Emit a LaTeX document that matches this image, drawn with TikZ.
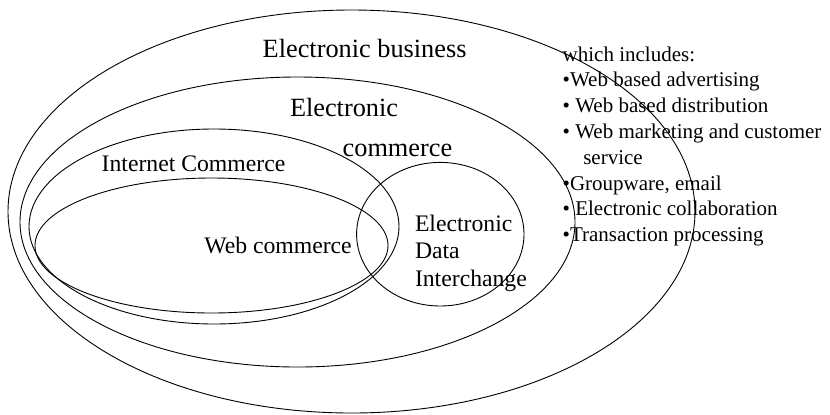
\documentclass[tikz,border=0pt]{standalone}
\usepackage{fontspec}
\setmainfont{Liberation Serif}
\begin{document}
\begin{tikzpicture}[x=1bp,y=-1bp,
  venn/.style={draw=black, line width=0.9bp},
  lbl/.style={inner sep=0pt, outer sep=0pt, anchor=base west, text=black},
  bigtxt/.style={lbl, font=\fontsize{26.3bp}{30bp}\selectfont},
  midtxt/.style={lbl, font=\fontsize{23.7bp}{28bp}\selectfont},
  listtxt/.style={lbl, font=\fontsize{21bp}{25bp}\selectfont}]
\useasboundingbox (0,0) rectangle (830,414);
% ellipses
\draw[venn] (351.5,211.5) ellipse [x radius=343.5bp, y radius=201.5bp];
\draw[venn] (297.5,222) ellipse [x radius=277.5bp, y radius=145bp];
\draw[venn] (214,226.5) ellipse [x radius=185bp, y radius=97.5bp];
\draw[venn] (211.5,245.5) ellipse [x radius=176.5bp, y radius=67.5bp];
\draw[venn] (440.3,234.2) ellipse [x radius=83.7bp, y radius=71.8bp];
% labels
\node[bigtxt] (eb) at (262.7,57.3) {Electronic business};
\node[bigtxt] (ec1) at (290,116.7) {Electronic};
\node[bigtxt] (ec2) at (342.7,156.7) {commerce};
\node[midtxt] (ic) at (101.7,171.7) {Internet Commerce};
\node[midtxt] (wc) at (204.3,253.3) {Web commerce};
\node[midtxt] (edi1) at (415,231) {Electronic};
\node[midtxt] (edi2) at (415,258.5) {Data};
\node[midtxt] (edi3) at (415,286.7) {Interchange};
% list
\node[listtxt] (l0) at (562.7,61.7) {which includes:};
\node[listtxt] (l1) at (562.7,86.9) {•Web based advertising};
\node[listtxt] (l2) at (562.7,112.6) {• Web based distribution};
\node[listtxt] (l3) at (562.7,138.3) {• Web marketing and customer};
\node[listtxt] (l4) at (583.3,164) {service};
\node[listtxt] (l5) at (562.7,190) {•Groupware, email};
\node[listtxt] (l6) at (562.7,215.8) {• Electronic collaboration};
\node[listtxt] (l7) at (562.7,241) {•Transaction processing};
\end{tikzpicture}
\end{document}
